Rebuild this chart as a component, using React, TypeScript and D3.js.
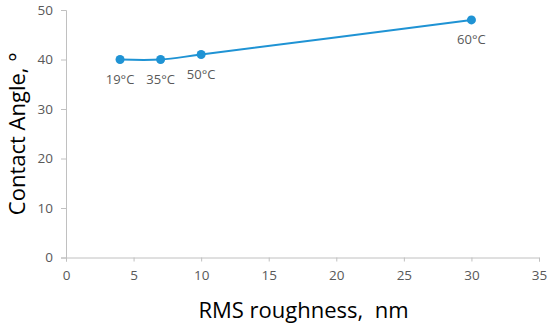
import { useEffect, useRef } from "react";
import * as d3 from "d3";

// roughness (nm) vs contact angle, one point per deposition temperature
const ROUGHNESS = [4, 7, 10, 30];
const CONTACT_ANGLE = [40, 40, 41, 48];
const TEMP_LABELS = ["19°C", "35°C", "50°C", "60°C"];
const X_TICKS = [0, 5, 10, 15, 20, 25, 30, 35];
const Y_TICKS = [0, 10, 20, 30, 40, 50];

const W = 550;
const H = 326;
const margin = { top: 10, right: 11, bottom: 68.5, left: 66 };

const FONT = "'Open Sans', 'Noto Sans', sans-serif";
const BLUE = "#1f93d4";
const AXIS_GREY = "#c0c0c0";
const TEXT_GREY = "#595959";

export default function App() {
  const ref = useRef<SVGSVGElement>(null);

  useEffect(() => {
    const svg = d3.select(ref.current);
    svg.selectAll("*").remove();

    const x = d3.scaleLinear().domain([0, 35]).range([margin.left, W - margin.right]);
    const y = d3.scaleLinear().domain([0, 50]).range([H - margin.bottom, margin.top]);

    // y axis
    const gy = svg
      .append("g")
      .attr("transform", `translate(${margin.left},0)`)
      .call(d3.axisLeft(y).tickValues(Y_TICKS).tickSize(5).tickPadding(8));
    gy.selectAll("path, line").attr("stroke", AXIS_GREY);
    gy.selectAll("text").attr("fill", TEXT_GREY).style("font", `13.5px ${FONT}`);

    // x axis
    const gx = svg
      .append("g")
      .attr("transform", `translate(0,${H - margin.bottom})`)
      .call(d3.axisBottom(x).tickValues(X_TICKS).tickSize(4).tickPadding(9));
    gx.selectAll("path, line").attr("stroke", AXIS_GREY);
    gx.selectAll("text").attr("fill", TEXT_GREY).style("font", `13.5px ${FONT}`);

    const data = ROUGHNESS.map((r, i) => ({ r, a: CONTACT_ANGLE[i], label: TEMP_LABELS[i] }));

    // smoothed line like the spreadsheet chart
    const line = d3
      .line<{ r: number; a: number }>()
      .x((d) => x(d.r))
      .y((d) => y(d.a))
      .curve(d3.curveCatmullRom.alpha(0.5));

    svg
      .append("path")
      .datum(data)
      .attr("d", line)
      .attr("fill", "none")
      .attr("stroke", BLUE)
      .attr("stroke-width", 2);

    svg
      .selectAll("circle.pt")
      .data(data)
      .join("circle")
      .attr("class", "pt")
      .attr("cx", (d) => x(d.r))
      .attr("cy", (d) => y(d.a))
      .attr("r", 4.5)
      .attr("fill", BLUE);

    svg
      .selectAll("text.lbl")
      .data(data)
      .join("text")
      .attr("class", "lbl")
      .attr("x", (d) => x(d.r))
      .attr("y", (d) => y(d.a) + 24)
      .attr("text-anchor", "middle")
      .attr("fill", TEXT_GREY)
      .style("font", `13px ${FONT}`)
      .text((d) => d.label);

    // axis titles
    svg
      .append("text")
      .attr("x", (margin.left + W - margin.right) / 2 + 1)
      .attr("y", 318)
      .attr("text-anchor", "middle")
      .attr("fill", "#000")
      .style("font", `22px ${FONT}`)
      .text("RMS roughness,  nm")
      .attr("xml:space", "preserve");

    svg
      .append("text")
      .attr("transform", `translate(25,${(margin.top + H - margin.bottom) / 2}) rotate(-90)`)
      .attr("text-anchor", "middle")
      .attr("fill", "#000")
      .style("font", `22px ${FONT}`)
      .text("Contact Angle, °");
  }, []);

  return (
    <svg
      ref={ref}
      width={W}
      height={H}
      style={{ position: "absolute", left: 0, top: 0, background: "#fff" }}
    />
  );
}
